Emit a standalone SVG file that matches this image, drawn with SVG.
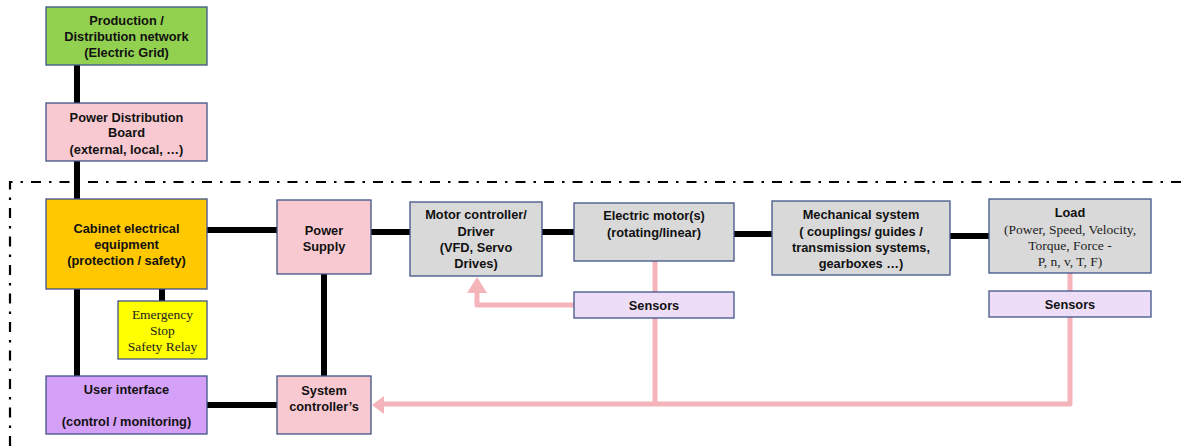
<svg xmlns="http://www.w3.org/2000/svg" width="1181" height="447" viewBox="0 0 1181 447">
<defs>
<style>
.box{stroke:#3F5488;stroke-width:1.3}
.t{font-family:"Liberation Sans",Arial,sans-serif;font-weight:bold;font-size:12.8px;fill:#111;text-anchor:middle;dominant-baseline:central}
.s{font-family:"Liberation Serif","Times New Roman",serif;font-size:13.5px;fill:#222;text-anchor:middle;dominant-baseline:central}
.blk{stroke:#000;stroke-width:6;fill:none}
.pnk{stroke:#F5B3BA;stroke-width:5;fill:none;stroke-linejoin:round}
.dd{stroke:#000;stroke-width:2.2;fill:none;stroke-dasharray:10 8 2.5 8}
</style>
</defs>
<rect width="1181" height="447" fill="#fff"/>
<g id="boundary">
<path class="dd" d="M1181 182 H10 V447"/>
</g>
<g id="connectors">
<path class="blk" d="M77 65 V103 M77 161 V199 M207 230 H277 M162 289 V301 M77 289 V376 M324 274 V376 M207 405 H277 M371 232 H410 M542 232 H574 M734 234 H772 M950 236 H989"/>
<path class="pnk" d="M655 261 V292 M655 318 V404 M1070 273 V291 M1070 317 V404 H383 M574 305 H477 V292"/>
<polygon points="477,277 467,293 487,293" fill="#F5B3BA"/>
<polygon points="372,405 384,396 384,414" fill="#F5B3BA"/>
</g>
<g id="production">
<rect class="box" x="46" y="7" width="161" height="58" fill="#92D050"/>
<text class="t" x="126.5" y="20.5">Production /</text>
<text class="t" x="126.5" y="36.5">Distribution network</text>
<text class="t" x="126.5" y="52.5">(Electric Grid)</text>
</g>
<g id="pdb">
<rect class="box" x="46" y="103" width="161" height="58" fill="#F9C9D1"/>
<text class="t" x="126.5" y="117">Power Distribution</text>
<text class="t" x="126.5" y="132.5">Board</text>
<text class="t" x="126.5" y="149">(external, local, …)</text>
</g>
<g id="cabinet">
<rect class="box" x="46" y="199" width="161" height="90" fill="#FFC800"/>
<text class="t" x="126.5" y="228">Cabinet electrical</text>
<text class="t" x="126.5" y="244">equipment</text>
<text class="t" x="126.5" y="260">(protection / safety)</text>
</g>
<g id="emergency">
<rect class="box" x="118" y="301" width="89" height="58" fill="#FFFF00"/>
<text class="s" x="162.5" y="314">Emergency</text>
<text class="s" x="162.5" y="330">Stop</text>
<text class="s" x="162.5" y="346">Safety Relay</text>
</g>
<g id="ui">
<rect class="box" x="46" y="376" width="161" height="58" fill="#D5A0F7"/>
<text class="t" x="126.5" y="389">User interface</text>
<text class="t" x="126.5" y="421.5">(control / monitoring)</text>
</g>
<g id="psu">
<rect class="box" x="277" y="200" width="94" height="74" fill="#F9C9D1"/>
<text class="t" x="324" y="230">Power</text>
<text class="t" x="324" y="246">Supply</text>
</g>
<g id="sysctrl">
<rect class="box" x="277" y="376" width="94" height="58" fill="#F9C9D1"/>
<text class="t" x="324" y="390">System</text>
<text class="t" x="324" y="406">controller’s</text>
</g>
<g id="motorctrl">
<rect class="box" x="410" y="202" width="132" height="74" fill="#D9D9D9"/>
<text class="t" x="476" y="214.5">Motor controller/</text>
<text class="t" x="476" y="231">Driver</text>
<text class="t" x="476" y="247">(VFD, Servo</text>
<text class="t" x="476" y="263">Drives)</text>
</g>
<g id="motor">
<rect class="box" x="574" y="203" width="160" height="58" fill="#D9D9D9"/>
<text class="t" x="654" y="215.5">Electric motor(s)</text>
<text class="t" x="654" y="232">(rotating/linear)</text>
</g>
<g id="sensors1">
<rect class="box" x="574" y="292" width="160" height="26" fill="#EEDDF7"/>
<text class="t" x="654" y="305.5">Sensors</text>
</g>
<g id="mech">
<rect class="box" x="772" y="201" width="178" height="74" fill="#D9D9D9"/>
<text class="t" x="861" y="214.5">Mechanical system</text>
<text class="t" x="861" y="231">( couplings/ guides /</text>
<text class="t" x="861" y="247">transmission systems,</text>
<text class="t" x="861" y="263">gearboxes …)</text>
</g>
<g id="load">
<rect class="box" x="989" y="199" width="162" height="74" fill="#D9D9D9"/>
<text class="t" x="1070" y="212.5">Load</text>
<text class="s" x="1070" y="229">(Power, Speed, Velocity,</text>
<text class="s" x="1070" y="245">Torque, Force -</text>
<text class="s" x="1070" y="261">P, n, v, T, F)</text>
</g>
<g id="sensors2">
<rect class="box" x="989" y="291" width="162" height="26" fill="#EEDDF7"/>
<text class="t" x="1070" y="304">Sensors</text>
</g>
</svg>
